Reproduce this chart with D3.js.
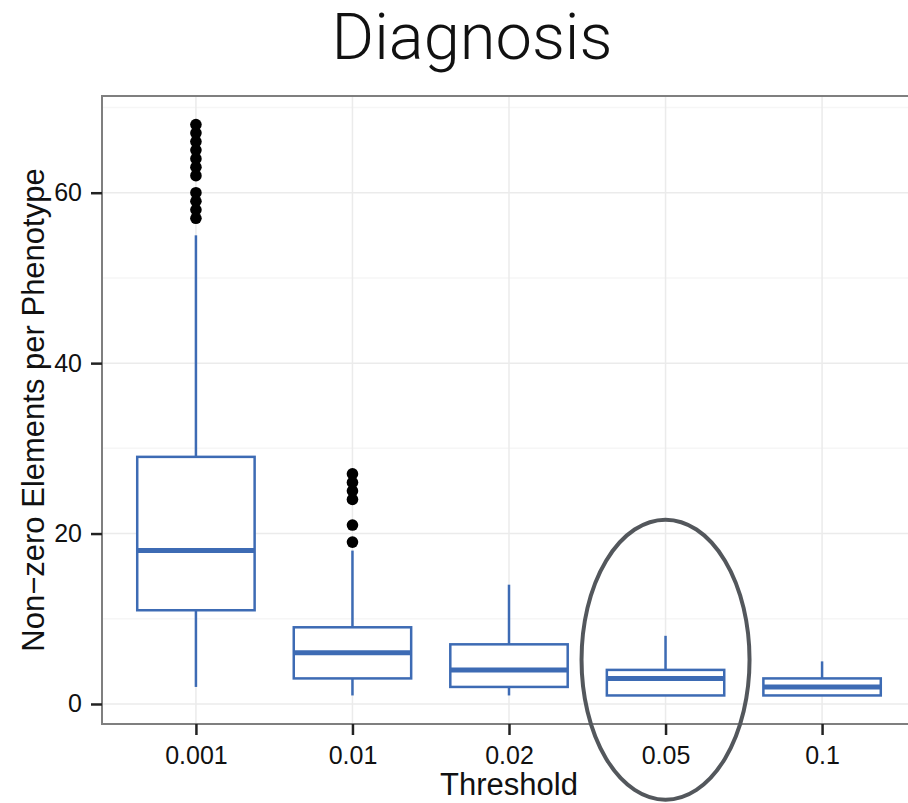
<!DOCTYPE html>
<head>
<meta charset="utf-8">
<script src="https://cdn.jsdelivr.net/npm/d3@7"></script>
<style>
body { margin: 0; background: #fff; }
text { font-family: "Liberation Sans", Arial, sans-serif; }
</style>
</head>
<body>
<script>

// Data
var thresholds = ["0.001", "0.01", "0.02", "0.05", "0.1"];
var lowerWhisker = [2, 1, 1, 1, 1];
var q1 = [11, 3, 2, 1, 1];
var medians = [18, 6, 4, 3, 2];
var q3 = [29, 9, 7, 4, 3];
var upperWhisker = [55, 18, 14, 8, 5];
var outliers = [
	[57, 58, 59, 60, 62, 63, 64, 65, 66, 67, 68],
	[19, 21, 24, 25, 26, 27],
	[],
	[],
	[]
];
var yTicks = [0, 20, 40, 60];
var yMinor = [10, 30, 50, 70];
var highlighted = "0.05";

var width = 908, height = 803;
var margin = {top: 96, right: -8, bottom: 79, left: 102};
var pw = width - margin.left - margin.right;
var ph = height - margin.top - margin.bottom;

var svg = d3.select("body").append("svg")
	.attr("width", width)
	.attr("height", height);

// ggplot style discrete scale, 0.6 expansion on each side
var x = d3.scalePoint()
	.domain(thresholds)
	.range([0, pw])
	.padding(0.6);
var step = x.step();

var y = d3.scaleLinear()
	.domain([-2.35, 71.35])
	.range([ph, 0]);

var g = svg.append("g")
	.attr("transform", "translate(" + margin.left + "," + margin.top + ")");

// grid
g.selectAll(".minor").data(yMinor).enter().append("line")
	.attr("x1", 0).attr("x2", pw)
	.attr("y1", function (d) { return y(d); })
	.attr("y2", function (d) { return y(d); })
	.attr("stroke", "#f6f6f6").attr("stroke-width", 1.5);
g.selectAll(".major").data(yTicks).enter().append("line")
	.attr("x1", 0).attr("x2", pw)
	.attr("y1", function (d) { return y(d); })
	.attr("y2", function (d) { return y(d); })
	.attr("stroke", "#ebebeb").attr("stroke-width", 1.5);
g.selectAll(".xgrid").data(thresholds).enter().append("line")
	.attr("x1", function (d) { return x(d); })
	.attr("x2", function (d) { return x(d); })
	.attr("y1", 0).attr("y2", ph)
	.attr("stroke", "#ebebeb").attr("stroke-width", 1.5);

var blue = "#3d6bb4";
var bw = step * 0.75;

var boxes = g.selectAll(".box").data(thresholds).enter().append("g");

// whiskers
boxes.append("line")
	.attr("x1", function (d) { return x(d); })
	.attr("x2", function (d) { return x(d); })
	.attr("y1", function (d, i) { return y(q3[i]); })
	.attr("y2", function (d, i) { return y(upperWhisker[i]); })
	.attr("stroke", blue).attr("stroke-width", 2.5);
boxes.append("line")
	.attr("x1", function (d) { return x(d); })
	.attr("x2", function (d) { return x(d); })
	.attr("y1", function (d, i) { return y(q1[i]); })
	.attr("y2", function (d, i) { return y(lowerWhisker[i]); })
	.attr("stroke", blue).attr("stroke-width", 2.5);

boxes.append("rect")
	.attr("x", function (d) { return x(d) - bw / 2; })
	.attr("width", bw)
	.attr("y", function (d, i) { return y(q3[i]); })
	.attr("height", function (d, i) { return y(q1[i]) - y(q3[i]); })
	.attr("fill", "white")
	.attr("stroke", blue).attr("stroke-width", 2.5);

boxes.append("line")
	.attr("x1", function (d) { return x(d) - bw / 2; })
	.attr("x2", function (d) { return x(d) + bw / 2; })
	.attr("y1", function (d, i) { return y(medians[i]); })
	.attr("y2", function (d, i) { return y(medians[i]); })
	.attr("stroke", blue).attr("stroke-width", 5);

// outlier points
boxes.each(function (d, i) {
	d3.select(this).selectAll("circle").data(outliers[i]).enter().append("circle")
		.attr("cx", x(d))
		.attr("cy", function (v) { return y(v); })
		.attr("r", 5.8)
		.attr("fill", "black");
});

// panel border
g.append("rect")
	.attr("width", pw).attr("height", ph)
	.attr("fill", "none")
	.attr("stroke", "#7f7f7f").attr("stroke-width", 2);

// axes
var yAxis = g.append("g").call(d3.axisLeft(y).tickValues(yTicks).tickSize(11).tickPadding(9));
var xAxis = g.append("g").attr("transform", "translate(0," + ph + ")")
	.call(d3.axisBottom(x).tickSize(11).tickPadding(11));
[yAxis, xAxis].forEach(function (a) {
	a.select(".domain").remove();
	a.selectAll(".tick line").attr("stroke", "#222").attr("stroke-width", 2.5);
	a.selectAll(".tick text")
		.attr("fill", "#111")
		.style("font-size", "25px")
		.style("font-family", "Liberation Sans, Arial, sans-serif");
});

// highlight ellipse around one threshold
g.append("ellipse")
	.attr("cx", x(highlighted))
	.attr("cy", y(5.2))
	.attr("rx", 84)
	.attr("ry", 140)
	.attr("fill", "none")
	.attr("stroke", "#53575c")
	.attr("stroke-width", 4);

// titles
svg.append("text")
	.attr("x", 472).attr("y", 59)
	.attr("text-anchor", "middle")
	.style("font-size", "65px")
	.style("font-weight", 300)
	.style("font-family", "Roboto, Liberation Sans, sans-serif")
	.attr("fill", "#111")
	.text("Diagnosis");

svg.append("text")
	.attr("x", margin.left + x("0.02")).attr("y", 795)
	.attr("text-anchor", "middle")
	.style("font-size", "31px")
	.attr("fill", "#111")
	.text("Threshold");

svg.append("text")
	.attr("transform", "translate(44," + (margin.top + ph / 2) + ") rotate(-90)")
	.attr("text-anchor", "middle")
	.style("font-size", "31px")
	.attr("fill", "#111")
	.text("Non\u2212zero Elements per Phenotype");

</script>
</body>
</html>
